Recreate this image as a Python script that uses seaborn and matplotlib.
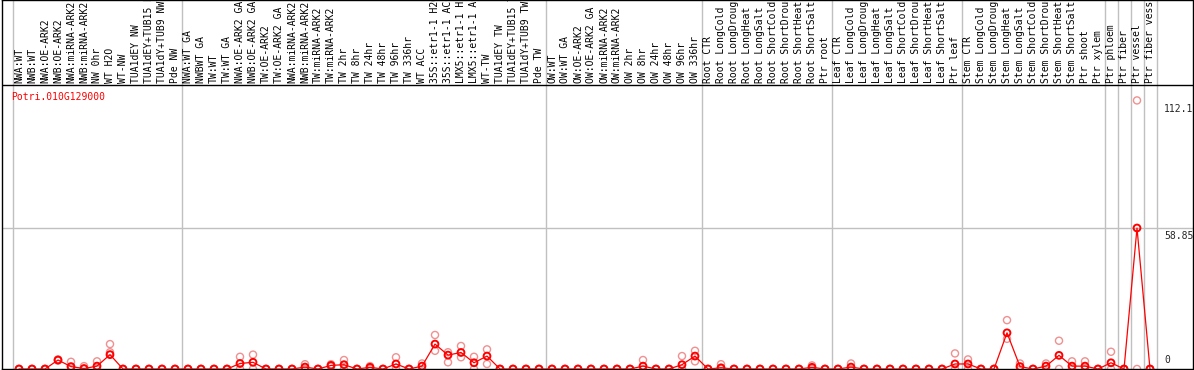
import numpy as np
import pandas as pd
import seaborn as sns
import matplotlib.pyplot as plt

gene = "Potri.010G129000"

samples = [
    "NWA:WT", "NWB:WT", "NWA:OE-ARK2", "NWB:OE-ARK2", "NWA:miRNA-ARK2", "NWB:miRNA-ARK2",
    "NW 0hr", "WT H2O", "WT-NW", "TUA1dEY NW", "TUA1dEY+TUB15 NW", "TUA1dY+TUB9 NW", "Pde NW",
    "NWA:WT GA", "NWBWT GA", "TW:WT", "TW:WT GA", "NWA:OE-ARK2 GA", "NWB:OE-ARK2 GA",
    "TW:OE-ARK2", "TW:OE-ARK2 GA", "NWA:miRNA-ARK2", "NWB:miRNA-ARK2", "TW:miRNA-ARK2",
    "TW:miRNA-ARK2", "TW 2hr", "TW 8hr", "TW 24hr", "TW 48hr", "TW 96hr", "TW 336hr",
    "WT ACC", "35S::etr1-1 H2O", "35S::etr1-1 ACC", "LMX5::etr1-1 H2O", "LMX5::etr1-1 ACC",
    "WT-TW", "TUA1dEY TW", "TUA1dEY+TUB15 TW", "TUA1dY+TUB9 TW", "Pde TW",
    "OW:WT", "OW:WT GA", "OW:OE-ARK2", "OW:OE-ARK2 GA", "OW:miRNA-ARK2", "OW:miRNA-ARK2",
    "OW 2hr", "OW 8hr", "OW 24hr", "OW 48hr", "OW 96hr", "OW 336hr",
    "Root CTR", "Root LongCold", "Root LongDrought", "Root LongHeat", "Root LongSalt",
    "Root ShortCold", "Root ShortDrought", "Root ShortHeat", "Root ShortSalt", "Ptr root",
    "Leaf CTR", "Leaf LongCold", "Leaf LongDrought", "Leaf LongHeat", "Leaf LongSalt",
    "Leaf ShortCold", "Leaf ShortDrought", "Leaf ShortHeat", "Leaf ShortSalt", "Ptr leaf",
    "Stem CTR", "Stem LongCold", "Stem LongDrought", "Stem LongHeat", "Stem LongSalt",
    "Stem ShortCold", "Stem ShortDrought", "Stem ShortHeat", "Stem ShortSalt", "Ptr shoot",
    "Ptr xylem", "Ptr phloem", "Ptr fiber", "Ptr vessel", "Ptr fiber vessel",
]

# mean expression per sample
means = [
    0, 0, 0, 3.75, 1.0, 0.2, 1.2, 6.0, 0, 0, 0, 0, 0,
    0, 0, 0, 0, 2.3, 2.8, 0, 0, 0, 0.8, 0, 1.5, 1.8, 0, 0.7, 0, 2.1, 0,
    1.2, 10.4, 5.8, 6.9, 2.6, 5.4, 0, 0, 0, 0,
    0, 0, 0, 0, 0, 0, 0, 1.2, 0, 0, 1.8, 5.4,
    0, 0.5, 0, 0, 0, 0, 0, 0, 0.7, 0,
    0, 0.8, 0, 0, 0, 0, 0, 0, 0, 2.1,
    2.1, 0, 0, 15.1, 1.0, 0, 1.2, 5.7, 1.2, 1.2, 0,
    2.6, 0, 58.85, 0,
]

# individual replicates
rep_a = [
    0, 0, 0, 4.0, 3.0, 1.2, 3.2, 10.4, 0, 0, 0, 0, 0,
    0, 0, 0, 0, 5.1, 6.0, 0, 0, 0, 2.0, 0, 2.0, 3.75, 0, 1.2, 0, 4.9, 0,
    2.3, 14.2, 7.0, 9.6, 5.1, 8.2, 0, 0, 0, 0,
    0, 0, 0, 0, 0, 0, 0, 3.75, 0, 0, 5.4, 7.6,
    0, 2.0, 0, 0, 0, 0, 0, 0, 1.5, 0,
    0, 2.3, 0, 0, 0, 0, 0, 0, 0, 6.5,
    4.0, 0, 0, 20.4, 2.3, 0, 2.3, 11.8, 3.2, 3.2, 0,
    7.2, 0, 112.1, 0,
]
rep_b = [
    0, 0, 0, 3.5, 0, 0, 0, 7.0, 0, 0, 0, 0, 0,
    0, 0, 0, 0, 0, 0, 0, 0, 0, 0, 0, 1.0, 0, 0, 0, 0, 0.5, 0,
    0, 7.6, 2.8, 4.9, 0, 2.1, 0, 0, 0, 0,
    0, 0, 0, 0, 0, 0, 0, 0, 0, 0, 0, 3.2,
    0, 0, 0, 0, 0, 0, 0, 0, 0, 0,
    0, 0, 0, 0, 0, 0, 0, 0, 0, 0,
    0, 0, 0, 12.6, 0, 0, 0, 0, 0, 0, 0,
    0, 0, 0, 0,
]

group_starts = [0, 13, 41, 53, 63, 73, 84, 85, 86, 87, 88]

sns.set_style("white")
plt.rcParams['font.family'] = ['DejaVu Sans Mono']

W, H = 1194, 370
fig = plt.figure(figsize=(W / 100, H / 100), dpi=100)
ax = fig.add_axes([2 / W, 1 / H, 1191 / W, 369 / H])

px = 13.0                      # pixels per sample
sy = (369 - 228) / 58.85       # pixels per unit
ax.set_xlim(-17 / px, 87 + (1193 - 1150) / px)
ax.set_ylim(0, 369 / sy)

df = pd.DataFrame({"i": np.arange(len(samples)), "mean": means,
                   "a": rep_a, "b": rep_b})
reps = pd.concat([df[["i", "a"]].rename(columns={"a": "v"}),
                  df[["i", "b"]].rename(columns={"b": "v"})])

top_line = (369 - 85) / sy
for g in group_starts:
    ax.axvline(g - 0.5, color="#c0c0c0", lw=1, zorder=1)
ax.axhline(58.85, color="#c0c0c0", lw=1, zorder=1)
ax.axhline(top_line, color="black", lw=1, zorder=3)

sns.scatterplot(data=reps, x="i", y="v", ax=ax, s=26, marker="o",
                facecolor="none", edgecolor="#f09090", linewidth=1.0, zorder=2)
sns.lineplot(data=df, x="i", y="mean", ax=ax, color="red", lw=0.9, zorder=4)
sns.scatterplot(data=df, x="i", y="mean", ax=ax, s=24, marker="o",
                facecolor="none", edgecolor="red", linewidth=1.4, zorder=5)

label_y = (369 - 83) / sy
for i, name in enumerate(samples):
    ax.text(i, label_y, name, rotation=90, ha="center", va="bottom",
            fontsize=7, color="black", clip_on=True)

ax.text(-0.6, (369 - 97) / sy, gene, color="red", fontsize=7,
        ha="left", va="center")

xr = (1164 - 19) / px
ax.text(xr, 112.1 - 1.3, "112.1", fontsize=7, ha="left", va="top")
ax.text(xr, 58.85 - 1.3, "58.85", fontsize=7, ha="left", va="top")
ax.text(xr, 1.5, "0", fontsize=7, ha="left", va="bottom")

ax.set_xlabel("")
ax.set_ylabel("")
ax.set_xticks([])
ax.set_yticks([])
for sp in ax.spines.values():
    sp.set_color("black")
    sp.set_linewidth(1)

fig.savefig("out.png", dpi=100)
